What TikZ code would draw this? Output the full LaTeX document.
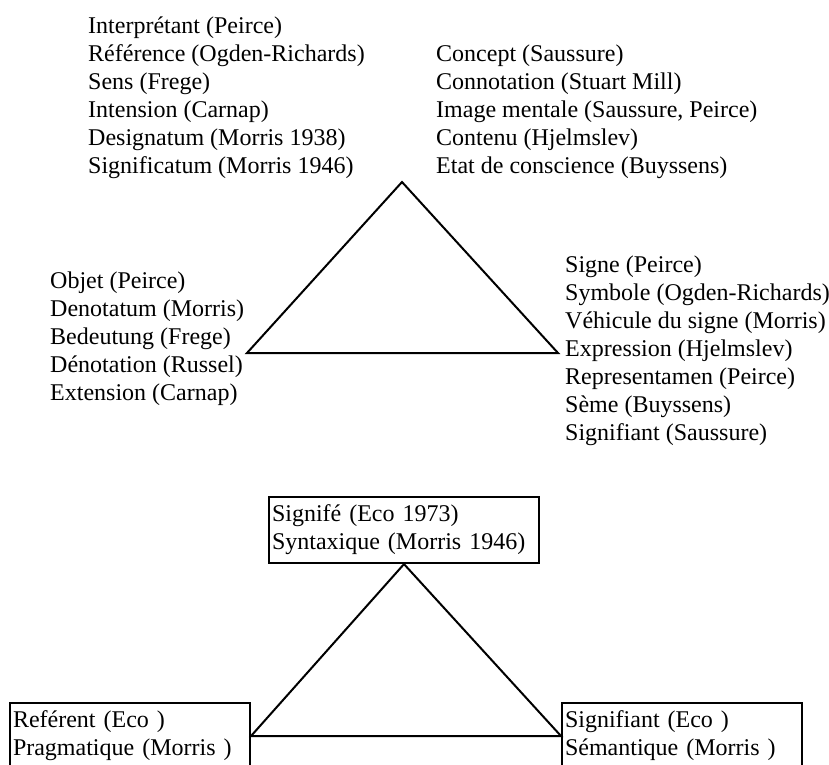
\documentclass[tikz,border=0pt]{standalone}
\usepackage{fontspec}
\setmainfont{Liberation Serif}
\usepackage{tikz}
\usetikzlibrary{positioning}

\begin{document}
\begin{tikzpicture}[x=1pt, y=-1pt,
  lst/.style={anchor=north west, inner sep=0pt, align=left, font=\fontsize{24}{28}\selectfont},
  bx/.style={draw, line width=2pt, anchor=north west, inner xsep=3pt, inner ysep=8pt, align=left, font=\fontsize{24}{28}\selectfont, text width=234pt},
  tri/.style={line width=2pt, line join=miter}]
  \useasboundingbox (0, 0) rectangle (829, 764);
  \clip (0, 0) rectangle (829, 764);

  % Upper triangle
  \node[lst] (interp) at (88, 16.5) {Interprétant (Peirce)\\ Référence (Ogden-Richards)\\ Sens (Frege)\\ Intension (Carnap)\\ Designatum (Morris 1938)\\ Significatum (Morris 1946)};
  \node[lst] (concept) at (436, 44.5) {Concept (Saussure)\\ Connotation (Stuart Mill)\\ Image mentale (Saussure, Peirce)\\ Contenu (Hjelmslev)\\ Etat de conscience (Buyssens)};
  \node[lst] (objet) at (50, 271.5) {Objet (Peirce)\\ Denotatum (Morris)\\ Bedeutung (Frege)\\ Dénotation (Russel)\\ Extension (Carnap)};
  \node[lst] (signe) at (565, 255.5) {Signe (Peirce)\\ Symbole (Ogden-Richards)\\ Véhicule du signe (Morris)\\ Expression (Hjelmslev)\\ Representamen (Peirce)\\ Sème (Buyssens)\\ Signifiant (Saussure)};
  \coordinate (top1) at (402, 182);
  \coordinate (left1) at (247, 353);
  \coordinate (right1) at (558, 353);
  \draw[tri] (top1) -- (left1) -- (right1) -- cycle;

  % Lower triangle
  \node[bx, text width=264pt] (signifie) at (268, 496) {Signifé (Eco 1973)\\ Syntaxique (Morris 1946)};
  \node[bx] (referent) at (9, 702) {Reférent (Eco )\\ Pragmatique (Morris )};
  \node[bx] (signifiant) at (561, 702) {Signifiant (Eco )\\ Sémantique (Morris )};
  \draw[tri] (signifie.south) -- (referent.east) -- (signifiant.west) -- cycle;
\end{tikzpicture}
\end{document}
